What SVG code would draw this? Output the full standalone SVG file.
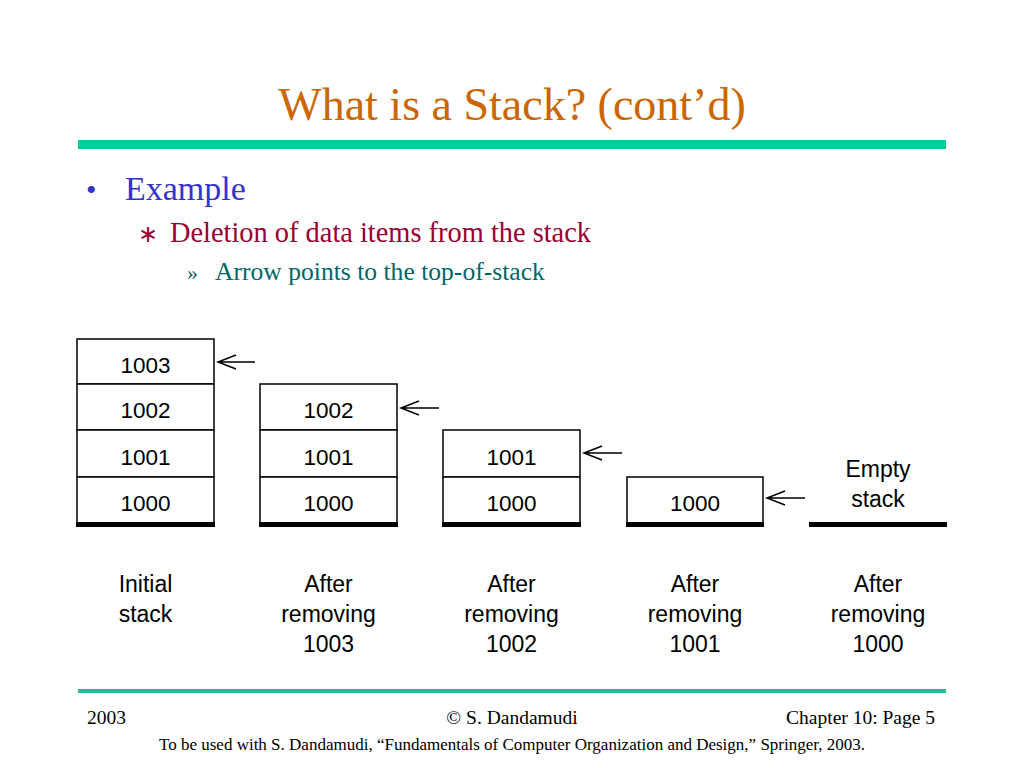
<svg xmlns="http://www.w3.org/2000/svg" width="1024" height="768" viewBox="0 0 1024 768">
<style>
.cell{fill:#fff;stroke:#000;stroke-width:1.5}
.num{font-family:"Liberation Sans",Arial,sans-serif;font-size:22.5px;text-anchor:middle;fill:#000}
.lbl{font-family:"Liberation Sans",Arial,sans-serif;font-size:23px;text-anchor:middle;fill:#000}
.bar{fill:#000}
.arr{stroke:#000;stroke-width:1.5;fill:none}
.ser{font-family:"Liberation Serif","Times New Roman",serif}
</style>
<rect width="1024" height="768" fill="#fff"/>
<text x="512" y="120" class="ser" font-size="46" fill="#CC6600" text-anchor="middle">What is a Stack? (cont’d)</text>
<rect x="78" y="140" width="868" height="9" fill="#00CC99"/>
<g id="bullets">
<text x="86" y="200" class="ser" font-size="30" fill="#3333CC">•</text>
<text x="125" y="200" class="ser" font-size="34" fill="#3333CC">Example</text>
<text x="138" y="242" class="ser" font-size="24" fill="#990033">∗</text>
<text x="170" y="242" class="ser" font-size="28.4" fill="#990033">Deletion of data items from the stack</text>
<text x="187" y="280" class="ser" font-size="22" fill="#006666">»</text>
<text x="215" y="280" class="ser" font-size="25.6" fill="#006666">Arrow points to the top-of-stack</text>
</g>
<g id="stack-initial">
<rect class="cell" x="77" y="339" width="137" height="45"/>
<rect class="cell" x="77" y="384" width="137" height="46"/>
<rect class="cell" x="77" y="430" width="137" height="47"/>
<rect class="cell" x="77" y="477" width="137" height="46"/>
<rect class="bar" x="76" y="522" width="139" height="5"/>
<text class="num" x="145.5" y="373">1003</text>
<text class="num" x="145.5" y="418">1002</text>
<text class="num" x="145.5" y="465">1001</text>
<text class="num" x="145.5" y="511">1000</text>
<text class="lbl" x="145.5" y="592">Initial</text>
<text class="lbl" x="145.5" y="622">stack</text>
</g>
<g id="stack-after-1003">
<rect class="cell" x="260" y="384" width="137" height="46"/>
<rect class="cell" x="260" y="430" width="137" height="47"/>
<rect class="cell" x="260" y="477" width="137" height="46"/>
<rect class="bar" x="259" y="522" width="139" height="5"/>
<text class="num" x="328.5" y="418">1002</text>
<text class="num" x="328.5" y="465">1001</text>
<text class="num" x="328.5" y="511">1000</text>
<text class="lbl" x="328.5" y="592">After</text>
<text class="lbl" x="328.5" y="622">removing</text>
<text class="lbl" x="328.5" y="652">1003</text>
</g>
<g id="stack-after-1002">
<rect class="cell" x="443" y="430" width="137" height="47"/>
<rect class="cell" x="443" y="477" width="137" height="46"/>
<rect class="bar" x="442" y="522" width="139" height="5"/>
<text class="num" x="511.5" y="465">1001</text>
<text class="num" x="511.5" y="511">1000</text>
<text class="lbl" x="511.5" y="592">After</text>
<text class="lbl" x="511.5" y="622">removing</text>
<text class="lbl" x="511.5" y="652">1002</text>
</g>
<g id="stack-after-1001">
<rect class="cell" x="627" y="477" width="136" height="46"/>
<rect class="bar" x="626" y="522" width="138" height="5"/>
<text class="num" x="695" y="511">1000</text>
<text class="lbl" x="695" y="592">After</text>
<text class="lbl" x="695" y="622">removing</text>
<text class="lbl" x="695" y="652">1001</text>
</g>
<g id="stack-after-1000">
<rect class="bar" x="809" y="522" width="138" height="5"/>
<text class="lbl" x="878" y="477">Empty</text>
<text class="lbl" x="878" y="507">stack</text>
<text class="lbl" x="878" y="592">After</text>
<text class="lbl" x="878" y="622">removing</text>
<text class="lbl" x="878" y="652">1000</text>
</g>
<g id="connectors">
<path class="arr" d="M255 362H218M236 355L218 362L236 369"/>
<path class="arr" d="M439 408H401M419 401L401 408L419 415"/>
<path class="arr" d="M622 453H584M602 446L584 453L602 460"/>
<path class="arr" d="M805 498H767M785 491L767 498L785 505"/>
</g>
<rect x="78" y="689" width="868" height="4" fill="#1FBF99"/>
<g id="footer" class="ser" fill="#000">
<text x="87" y="724" font-size="19.5">2003</text>
<text x="512" y="724" font-size="19.5" text-anchor="middle">© S. Dandamudi</text>
<text x="935" y="724" font-size="19.5" text-anchor="end">Chapter 10: Page 5</text>
<text x="512" y="750" font-size="17" text-anchor="middle">To be used with S. Dandamudi, “Fundamentals of Computer Organization and Design,” Springer, 2003.</text>
</g>
</svg>
